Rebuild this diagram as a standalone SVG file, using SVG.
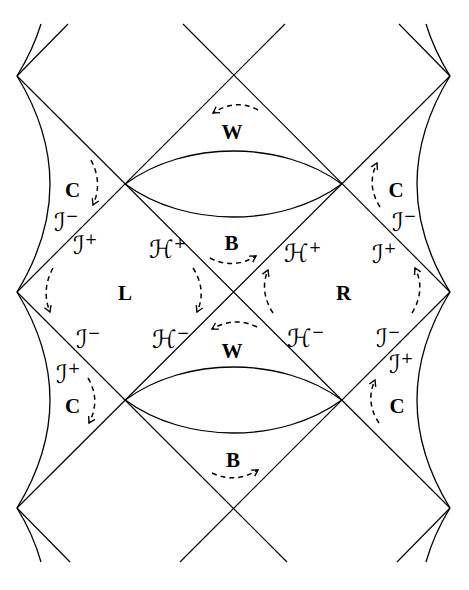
<svg xmlns="http://www.w3.org/2000/svg" width="469" height="590" viewBox="0 0 469 590">
<style>
.ln{stroke:#000;stroke-width:1.2;fill:none}
.cv{stroke:#000;stroke-width:1.3;fill:none}
.ar{stroke:#000;stroke-width:1.5;fill:none;stroke-dasharray:5 4;marker-end:url(#ah)}
.lb{font-family:"Liberation Serif","Times New Roman",serif;font-weight:bold;font-size:21px;text-anchor:middle;fill:#000}
.sc{font-family:"DejaVu Serif","DejaVu Sans",serif;font-size:25px;fill:#000}
.sp{font-size:15px}
</style>
<defs>
<marker id="ah" viewBox="-8 -5 10 10" refX="0" refY="0" markerWidth="10" markerHeight="10" markerUnits="userSpaceOnUse" orient="auto">
<path d="M-6,-3.5 L0,0 L-6,3.5" stroke="#000" stroke-width="1.4" fill="none"/>
</marker>
</defs>
<rect width="469" height="590" fill="#fff"/>
<g id="lines">
<path class="ln" d="M17,76 L450,508 M183,24 L450,292 M399,24 L450,76 M450,76 L17,508 M285,24 L17,292 M68,24 L17,76 M450,292 L180,562 M17,292 L287,562 M17,508 L70,562 M450,508 L397,562"/>
</g>
<g id="singularities">
<path class="cv" d="M41,24 Q33,50 17,76 Q83,184 17,292 Q83,400 17,508 Q33,534 41,562"/>
<path class="cv" d="M426,24 Q434,50 450,76 Q384,184 450,292 Q384,400 450,508 Q434,534 426,562"/>
<path class="cv" d="M125.25,184 C185,140 282,140 341.75,184 C282,228 185,228 125.25,184"/>
<path class="cv" d="M125.25,400 C185,356 282,356 341.75,400 C282,444 185,444 125.25,400"/>
</g>
<g id="arrows">
<path class="ar" d="M258,110 Q236,98 213,113"/>
<path class="ar" d="M91,160 Q103,183 93,205"/>
<path class="ar" d="M380,207 Q366,185 377,163"/>
<path class="ar" d="M210,258 Q233,270 256,256"/>
<path class="ar" d="M53,268 Q41,290 50,312"/>
<path class="ar" d="M193,268 Q207,290 197,312"/>
<path class="ar" d="M273,313 Q259,291 268,270"/>
<path class="ar" d="M412,313 Q426,290 415,268"/>
<path class="ar" d="M257,327 Q235,316 212,329"/>
<path class="ar" d="M88,378 Q101,400 89,423"/>
<path class="ar" d="M379,423 Q365,402 375,380"/>
<path class="ar" d="M212,473 Q235,484 258,470"/>
</g>
<g id="regions">
<text class="lb" x="232" y="139">W</text>
<text class="lb" x="231.5" y="250">B</text>
<text class="lb" x="232" y="358">W</text>
<text class="lb" x="233" y="467">B</text>
<text class="lb" x="125" y="300">L</text>
<text class="lb" x="343.5" y="300">R</text>
<text class="lb" x="72.5" y="197">C</text>
<text class="lb" x="396" y="197">C</text>
<text class="lb" x="72.5" y="413">C</text>
<text class="lb" x="397" y="413">C</text>
</g>
<g id="boundaries">
<text class="sc" x="54" y="231">ℐ<tspan class="sp" dy="-10">−</tspan></text>
<text class="sc" x="73" y="254">ℐ<tspan class="sp" dy="-10">+</tspan></text>
<text class="sc" x="149" y="258">ℋ<tspan class="sp" dy="-10">+</tspan></text>
<text class="sc" x="284" y="262">ℋ<tspan class="sp" dy="-10">+</tspan></text>
<text class="sc" x="392" y="231">ℐ<tspan class="sp" dy="-10">−</tspan></text>
<text class="sc" x="372" y="263">ℐ<tspan class="sp" dy="-10">+</tspan></text>
<text class="sc" x="76" y="348">ℐ<tspan class="sp" dy="-10">−</tspan></text>
<text class="sc" x="152" y="348">ℋ<tspan class="sp" dy="-10">−</tspan></text>
<text class="sc" x="287" y="347">ℋ<tspan class="sp" dy="-10">−</tspan></text>
<text class="sc" x="376" y="347">ℐ<tspan class="sp" dy="-10">−</tspan></text>
<text class="sc" x="389" y="373">ℐ<tspan class="sp" dy="-10">+</tspan></text>
<text class="sc" x="56" y="383">ℐ<tspan class="sp" dy="-10">+</tspan></text>
</g>
</svg>
